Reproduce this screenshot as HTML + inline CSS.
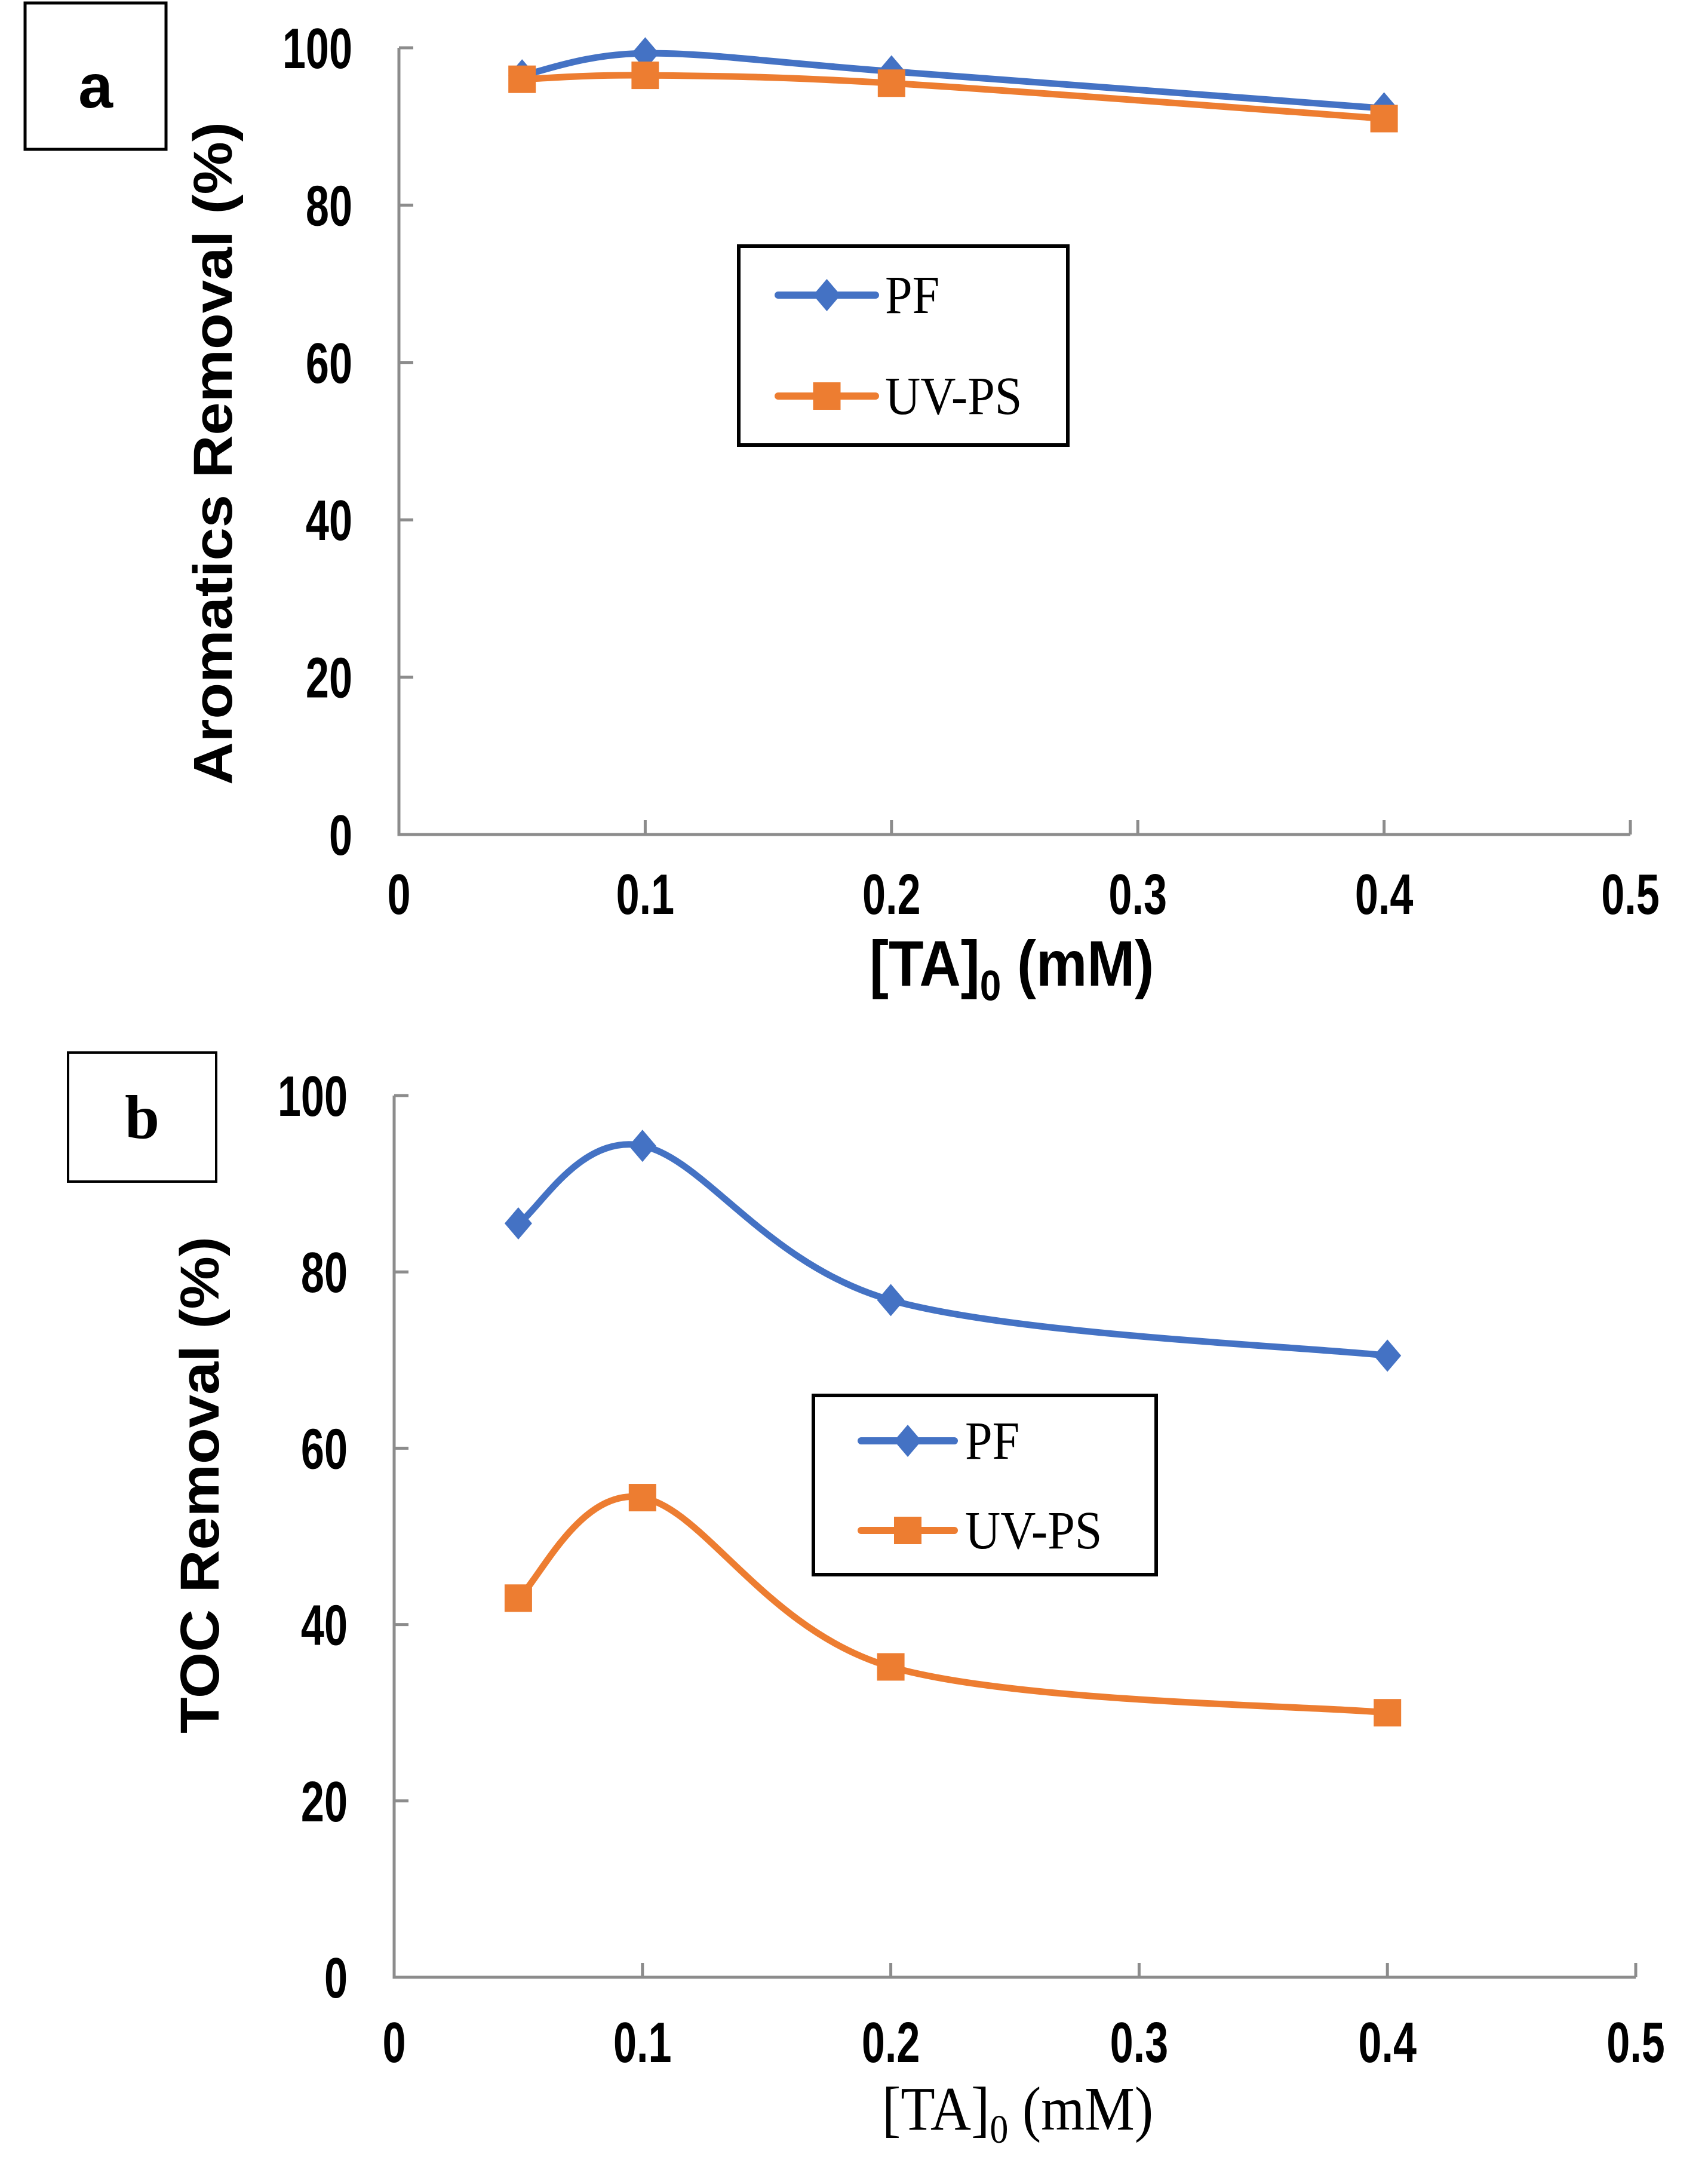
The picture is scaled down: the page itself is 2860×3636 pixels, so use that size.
<!DOCTYPE html>
<html><head><meta charset="utf-8">
<style>
html,body{margin:0;padding:0;background:#fff;}
svg{display:block;}
.tick{font-family:"Liberation Sans",Arial,sans-serif;font-weight:bold;font-size:78px;fill:#000;}
.ser{font-family:"Liberation Serif","Times New Roman",serif;fill:#000;}
</style></head>
<body>
<svg id="chart" width="2860" height="3636" viewBox="0 0 2860 3636" xmlns="http://www.w3.org/2000/svg">
<rect width="2860" height="3636" fill="#fff"/>
<g id="pa"></g>
<g id="pb"></g>
</svg>
<script>
const xValues = [0.05, 0.1, 0.2, 0.4];
const xTicks = [0, 0.1, 0.2, 0.3, 0.4, 0.5];
const xTickLabels = ["0", "0.1", "0.2", "0.3", "0.4", "0.5"];
const yTicks = [0, 20, 40, 60, 80, 100];
const yTickLabels = ["0", "20", "40", "60", "80", "100"];
const seriesNames = ["PF", "UV-PS"];
const aromaticsPF = [96.5, 99.3, 97.0, 92.3];
const aromaticsUVPS = [96.0, 96.5, 95.5, 91.0];
const tocPF = [85.5, 94.3, 76.8, 70.5];
const tocUVPS = [43.0, 54.4, 35.2, 30.0];

const NS = "http://www.w3.org/2000/svg";
const BLUE = "#4472C4", ORANGE = "#ED7D31", AX = "#8c8c8c";
function mk(tag, attrs, parent, text) {
  const e = document.createElementNS(NS, tag);
  for (const k in attrs) e.setAttribute(k, attrs[k]);
  if (text !== undefined) e.textContent = text;
  parent.appendChild(e);
  return e;
}
function smoothPath(pts) {
  let d = "M" + pts[0][0] + "," + pts[0][1];
  for (let i = 0; i < pts.length - 1; i++) {
    const p0 = pts[Math.max(0, i - 1)], p1 = pts[i], p2 = pts[i + 1], p3 = pts[Math.min(pts.length - 1, i + 2)];
    const c1x = p1[0] + (p2[0] - p0[0]) / 6, c1y = p1[1] + (p2[1] - p0[1]) / 6;
    const c2x = p2[0] - (p3[0] - p1[0]) / 6, c2y = p2[1] - (p3[1] - p1[1]) / 6;
    d += " C" + c1x + "," + c1y + " " + c2x + "," + c2y + " " + p2[0] + "," + p2[1];
  }
  return d;
}
function diamond(g, cx, cy, color) {
  const p = mk("polygon", {points: (cx) + "," + (cy - 27) + " " + (cx + 23) + "," + cy + " " + cx + "," + (cy + 27) + " " + (cx - 23) + "," + cy, fill: color}, g);
  
  
}
function square(g, cx, cy, color) {
  const r = mk("rect", {x: cx - 23, y: cy - 23, width: 46, height: 46, fill: color}, g);
  
  
}
function panel(g, cfg) {
  const sx = v => cfg.x0 + (v / 0.5) * (cfg.x1 - cfg.x0);
  const sy = v => cfg.y0 - (v / 100) * (cfg.y0 - cfg.y1);
  const ax = mk("path", {d: "M" + cfg.x0 + "," + cfg.y1 + " L" + cfg.x0 + "," + cfg.y0 + " L" + cfg.x1 + "," + cfg.y0, fill: "none", stroke: AX, "stroke-width": 5}, g);
  
  
  yTicks.forEach((t, i) => {
    const y = sy(t);
    const tk = mk("line", {x1: cfg.x0, x2: cfg.x0 + 24, y1: y, y2: y, stroke: AX, "stroke-width": 5}, g);
    
    
    const lb = mk("text", {transform: "translate(" + cfg.ylx + "," + (y + 34) + ") scale(0.9,1.22)", "text-anchor": "end", class: "tick"}, g, yTickLabels[i]);
    
    
  });
  xTicks.forEach((t, i) => {
    const x = sx(t);
    const tk = mk("line", {x1: x, x2: x, y1: cfg.y0, y2: cfg.y0 - 24, stroke: AX, "stroke-width": 5}, g);
    
    
    const lb = mk("text", {transform: "translate(" + x + "," + (cfg.xly + 8) + ") scale(0.9,1.22)", "text-anchor": "middle", class: "tick"}, g, xTickLabels[i]);
    
    
  });
  [[cfg.pf, BLUE, diamond, "pf-line"], [cfg.uv, ORANGE, square, "uv-ps-line"]].forEach(s => {
    const pts = xValues.map((x, i) => [sx(x), sy(s[0][i])]);
    const ln = mk("path", {d: smoothPath(pts), fill: "none", stroke: s[1], "stroke-width": 11, "stroke-linecap": "round"}, g);
    
    
    pts.forEach(p => s[2](g, p[0], p[1], s[1]));
  });
  const L = cfg.leg;
  const lg = mk("g", {}, g);
  
  
  mk("rect", {x: L.x, y: L.y, width: L.w, height: L.h, fill: "#fff", stroke: "#000", "stroke-width": 6}, lg);
  [[BLUE, diamond, L.r1], [ORANGE, square, L.r2]].forEach((r, i) => {
    const le = mk("g", {}, lg);
    
    
    mk("line", {x1: L.lx1, x2: L.lx2, y1: r[2], y2: r[2], stroke: r[0], "stroke-width": 12, "stroke-linecap": "round"}, le);
    r[1](le, (L.lx1 + L.lx2) / 2, r[2], r[0]);
    mk("text", {transform: "translate(" + L.tx + "," + (r[2] + 30) + ") scale(1,1.1)", class: "ser", "font-size": 82}, le, seriesNames[i]);
  });
}
panel(document.getElementById("pa"), {
  x0: 668, x1: 2730, y0: 1397, y1: 80, ylx: 590, xly: 1522,
  pf: aromaticsPF, uv: aromaticsUVPS,
  leg: {x: 1237, y: 412, w: 551, h: 333, lx1: 1303, lx2: 1466, tx: 1482, r1: 494, r2: 663}
});
panel(document.getElementById("pb"), {
  x0: 660, x1: 2739, y0: 3310, y1: 1834, ylx: 582, xly: 3444,
  pf: tocPF, uv: tocUVPS,
  leg: {x: 1362, y: 2336, w: 574, h: 300, lx1: 1442, lx2: 1598, tx: 1616, r1: 2412, r2: 2562}
});
</script>
<svg style="position:absolute;left:0;top:0" width="2860" height="3636">
  <rect x="42" y="5" width="236" height="245" fill="#fff" stroke="#000" stroke-width="5"/>
  <text x="160" y="180" text-anchor="middle" font-family="Liberation Sans, sans-serif" font-weight="bold" font-size="104">a</text>
  <rect x="114" y="1762" width="248" height="216" fill="#fff" stroke="#000" stroke-width="4"/>
  <text x="238" y="1905" text-anchor="middle" font-family="Liberation Serif, serif" font-weight="bold" font-size="104">b</text>
  <text transform="translate(388,759) rotate(-90)" text-anchor="middle" font-family="Liberation Sans, sans-serif" font-weight="bold" font-size="92" textLength="1110" lengthAdjust="spacingAndGlyphs">Aromatics Removal (%)</text>
  <text transform="translate(1456,1650) scale(1,1.12)" font-family="Liberation Sans, sans-serif" font-weight="bold" font-size="96">[TA]<tspan font-size="64" dy="22">0</tspan><tspan dy="-22"> (mM)</tspan></text>
  <text transform="translate(366,2486) rotate(-90)" text-anchor="middle" font-family="Liberation Sans, sans-serif" font-weight="bold" font-size="92" textLength="832" lengthAdjust="spacingAndGlyphs">TOC Removal (%)</text>
  <text transform="translate(1477,3565) scale(1,1.1)" font-family="Liberation Serif, serif" font-size="94">[TA]<tspan font-size="62" dy="20">0</tspan><tspan dy="-20"> (mM)</tspan></text>
</svg>
</body></html>
